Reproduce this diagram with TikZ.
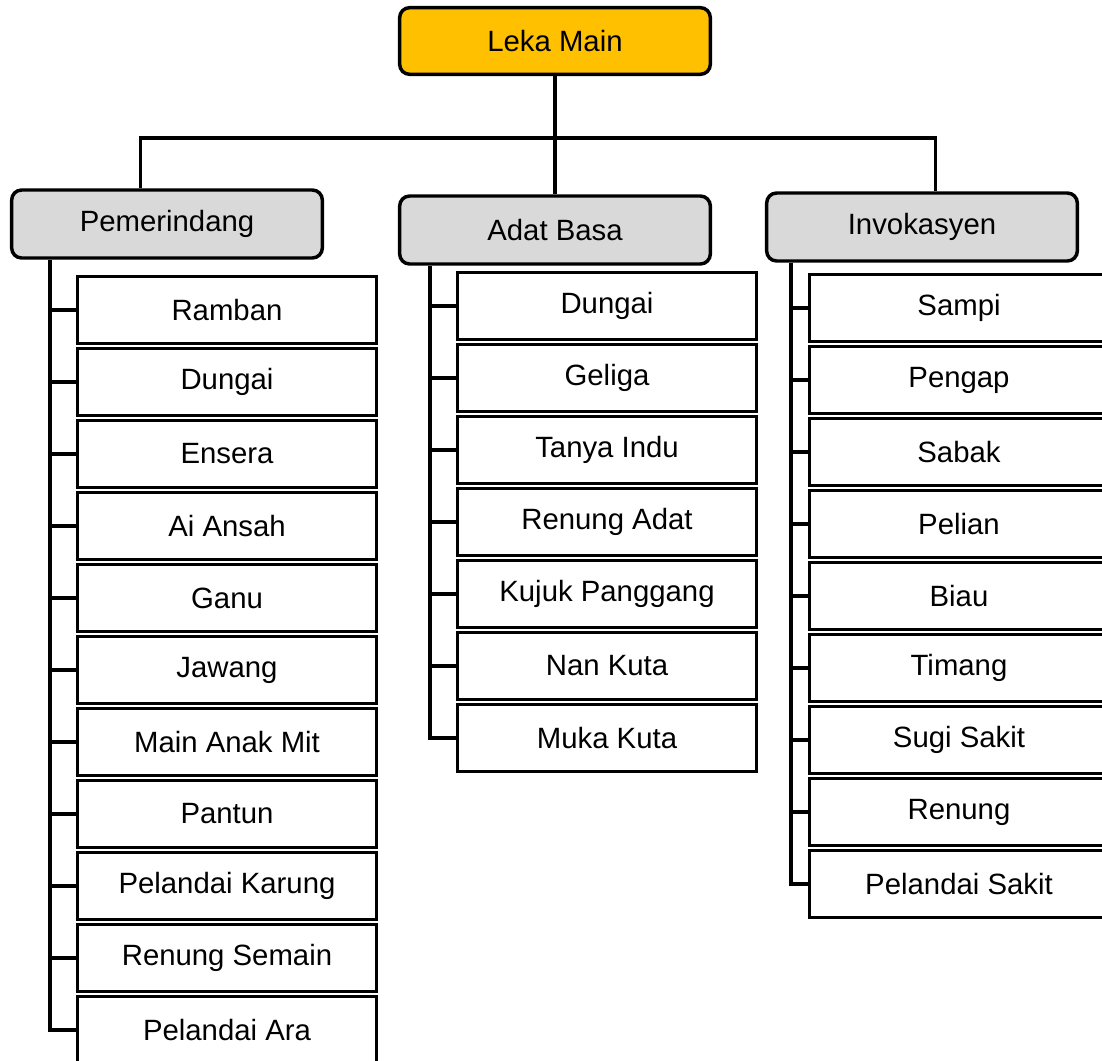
\documentclass[tikz,border=0pt]{standalone}
\usepackage{fontspec}
\setmainfont{Liberation Sans}
\usetikzlibrary{positioning}
\definecolor{lekaorange}{HTML}{FFC000}
\definecolor{groupgray}{HTML}{D9D9D9}

\begin{document}
\begin{tikzpicture}[
        x=0.75pt, y=-0.75pt, node distance=54pt, on grid,
        font=\fontsize{22}{26}\selectfont,
        top/.style={draw, line width=2.6pt, rounded corners=7.5pt, fill=lekaorange,
          minimum width=233pt, minimum height=50pt},
        group/.style={draw, line width=2.6pt, rounded corners=7.5pt, fill=groupgray,
          minimum width=233pt, minimum height=51pt},
        item/.style={draw, line width=1.8pt, minimum width=224pt, minimum height=50pt},
        link/.style={line width=2.6pt},
        ]
        \useasboundingbox (0,0) rectangle (1102,1060);

        \node[top]   (leka) at (555,41)  {Leka Main};
        \node[group] (pem)  at (167,224) {Pemerindang};
        \node[group] (adat) at (555,230) {Adat Basa};
        \node[group] (inv)  at (922,227) {Invokasyen};

        % Pemerindang
        \node[item] (ramban) at (227,310)     {Ramban};
        \node[item] (p_dungai) [below=of ramban]   {Dungai};
        \node[item] (ensera)   [below=of p_dungai] {Ensera};
        \node[item] (ai_ansah) [below=of ensera]   {Ai Ansah};
        \node[item] (ganu)     [below=of ai_ansah] {Ganu};
        \node[item] (jawang)   [below=of ganu]     {Jawang};
        \node[item] (anak_mit) [below=of jawang]   {Main Anak Mit};
        \node[item] (pantun)   [below=of anak_mit] {Pantun};
        \node[item] (karung)   [below=of pantun]   {Pelandai Karung};
        \node[item] (semain)   [below=of karung]   {Renung Semain};
        \node[item] (ara)      [below=of semain]   {Pelandai Ara};

        % Adat Basa
        \node[item] (a_dungai) at (607,306)   {Dungai};
        \node[item] (geliga)   [below=of a_dungai] {Geliga};
        \node[item] (indu)     [below=of geliga]   {Tanya Indu};
        \node[item] (r_adat)   [below=of indu]     {Renung Adat};
        \node[item] (kujuk)    [below=of r_adat]   {Kujuk Panggang};
        \node[item] (nan_kuta) [below=of kujuk]    {Nan Kuta};
        \node[item] (muka)     [below=of nan_kuta] {Muka Kuta};

        % Invokasyen
        \node[item] (sampi)  at (959,308)     {Sampi};
        \node[item] (pengap) [below=of sampi]  {Pengap};
        \node[item] (sabak)  [below=of pengap] {Sabak};
        \node[item] (pelian) [below=of sabak]  {Pelian};
        \node[item] (biau)   [below=of pelian] {Biau};
        \node[item] (timang) [below=of biau]   {Timang};
        \node[item] (sugi)   [below=of timang] {Sugi Sakit};
        \node[item] (renung) [below=of sugi]   {Renung};
        \node[item] (p_sakit) [below=of renung] {Pelandai Sakit};

        \coordinate (split) at (555,138);
        \coordinate (pem_s)  at ([xshift=30pt]pem.south west);
        \coordinate (adat_s) at ([xshift=24pt]adat.south west);
        \coordinate (inv_s)  at ([xshift=19.5pt]inv.south west);

        \draw[link] (leka) -- (adat);
        \draw[link] ([xshift=-20pt]pem.north) |- (split) -| ([xshift=10pt]inv.north);

        \draw[link] (pem_s) |- (ara.west)
        (pem_s |- ramban.west) -- (ramban.west)
        (pem_s |- p_dungai.west) -- (p_dungai.west)
        (pem_s |- ensera.west) -- (ensera.west)
        (pem_s |- ai_ansah.west) -- (ai_ansah.west)
        (pem_s |- ganu.west) -- (ganu.west)
        (pem_s |- jawang.west) -- (jawang.west)
        (pem_s |- anak_mit.west) -- (anak_mit.west)
        (pem_s |- pantun.west) -- (pantun.west)
        (pem_s |- karung.west) -- (karung.west)
        (pem_s |- semain.west) -- (semain.west);

        \draw[link] (adat_s) |- (muka.west)
        (adat_s |- a_dungai.west) -- (a_dungai.west)
        (adat_s |- geliga.west) -- (geliga.west)
        (adat_s |- indu.west) -- (indu.west)
        (adat_s |- r_adat.west) -- (r_adat.west)
        (adat_s |- kujuk.west) -- (kujuk.west)
        (adat_s |- nan_kuta.west) -- (nan_kuta.west);

        \draw[link] (inv_s) |- (p_sakit.west)
        (inv_s |- sampi.west) -- (sampi.west)
        (inv_s |- pengap.west) -- (pengap.west)
        (inv_s |- sabak.west) -- (sabak.west)
        (inv_s |- pelian.west) -- (pelian.west)
        (inv_s |- biau.west) -- (biau.west)
        (inv_s |- timang.west) -- (timang.west)
        (inv_s |- sugi.west) -- (sugi.west)
        (inv_s |- renung.west) -- (renung.west);
      \end{tikzpicture}
\end{document}
